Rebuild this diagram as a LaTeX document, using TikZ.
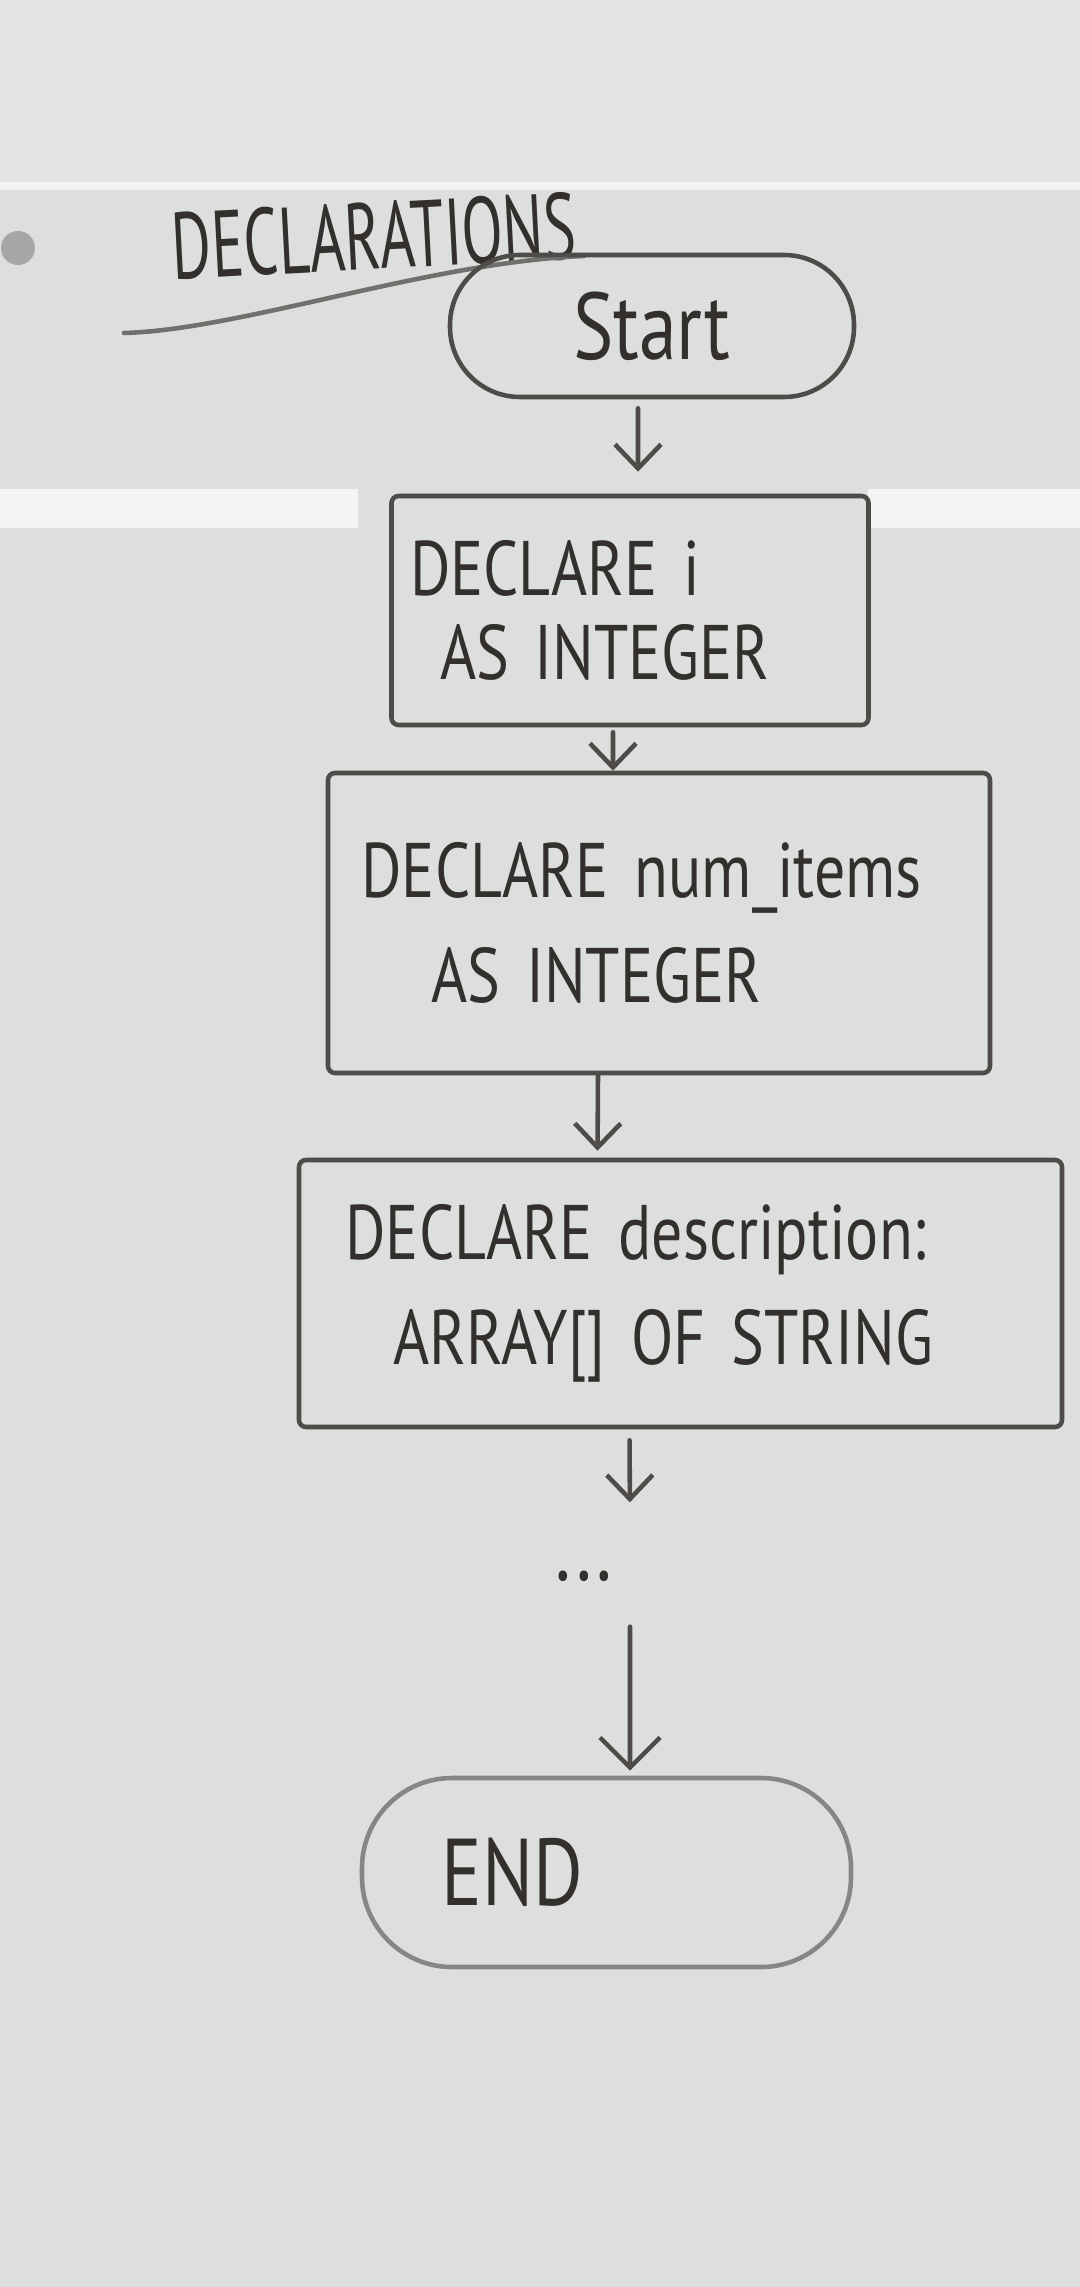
\documentclass[tikz,border=0pt]{standalone}
\usepackage{fontspec}
\setmainfont{PT Sans}[FakeStretch=0.8]
\usetikzlibrary{arrows.meta}
\definecolor{board}{RGB}{220,223,221}
\definecolor{wall}{RGB}{229,227,227}
\definecolor{marker}{RGB}{78,75,72}
\definecolor{ink}{RGB}{50,47,44}
\begin{document}
\begin{tikzpicture}[line join=round, line cap=round, >={Straight Barb[length=2.4mm,width=4.6mm]},
    pen/.style={draw=marker, line width=1.3pt},
    stepbox/.style={pen, rounded corners=2pt, text=ink, align=left, font=\fontsize{22}{28}\selectfont},
    term/.style={pen, rounded corners=0.7cm, text=ink, font=\fontsize{27}{30}\selectfont}]
    \useasboundingbox (0,0) rectangle (10.8,-22.87);
    \fill[board] (0,0) rectangle (10.8,-22.87);
    \fill[wall] (0,0) rectangle (10.8,-1.85);
    \draw[white!60!board, line width=2pt] (0,-1.86) -- (10.8,-1.86);
    \fill[white!65!board] (0,-4.89) rectangle (3.58,-5.28) (8.68,-4.89) rectangle (10.8,-5.28);
    \fill[black!25!board] (0.18,-2.48) circle (0.17);
    \node[rotate=3, text=ink, font=\fontsize{21.5}{24}\selectfont] (title) at (3.74,-2.36) {\scalebox{1}[1.25]{DECLARATIONS}};
    \draw[pen, draw=marker!75!board] (1.24,-3.33) .. controls (2.4,-3.3) and (4.3,-2.62) .. (5.84,-2.56);
    \node[term, minimum width=4.04cm, minimum height=1.42cm] (start) at (6.52,-3.26) {Start};
    \node[stepbox, minimum width=4.77cm, minimum height=2.29cm, text width=4.4cm] (decli) at (6.30,-6.105)
        {DECLARE i\\[-4pt]\hspace*{0.3cm}AS INTEGER};
    \node[stepbox, minimum width=6.62cm, minimum height=3.0cm, text width=5.95cm] (declnum) at (6.59,-9.23)
        {DECLARE num\_items\\[2pt]\hspace*{0.7cm}AS INTEGER};
    \node[stepbox, minimum width=7.63cm, minimum height=2.67cm, text width=6.7cm] (decldesc) at (6.805,-12.935)
        {DECLARE description:\\[2pt]\hspace*{0.48cm}ARRAY[] OF STRING};
    \node[text=ink, minimum height=1cm, font=\fontsize{26}{30}\selectfont] (dots) at (5.84,-15.76) {...};
    \node[term, draw=marker!60!board, minimum width=4.89cm, minimum height=1.89cm, rounded corners=0.9cm,
        text width=3.3cm, align=left] (stop) at (6.065,-18.725) {END};
    \draw[pen, ->, shorten <=0.9mm, shorten >=2.2mm] ([xshift=-1.4mm]start.south) -- ([xshift=0.8mm]decli.north);
    \draw[pen, ->, shorten <=0.5mm] ([xshift=-1.7mm]decli.south) -- ([xshift=-4.6mm]declnum.north);
    \draw[pen, ->, shorten >=0.7mm] ([xshift=-6.1mm]declnum.south) -- ([xshift=-8.3mm]decldesc.north);
    \draw[pen, ->, shorten <=1.1mm, shorten >=2.3mm] ([xshift=-5.1mm]decldesc.south) -- ([xshift=4.6mm]dots.north);
    \draw[pen, ->, >={Straight Barb[length=3mm,width=6mm]}, shorten >=0.5mm] ([xshift=4.6mm]dots.south) -- ([xshift=2.35mm]stop.north);
\end{tikzpicture}
\end{document}
